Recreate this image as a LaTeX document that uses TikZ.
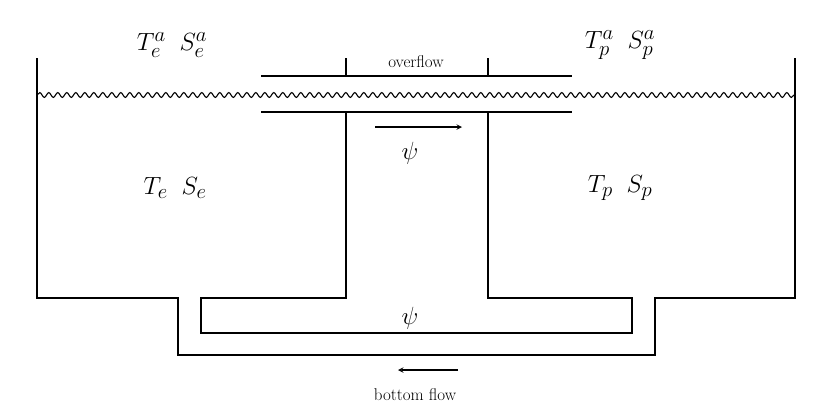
\documentclass[tikz,border=0pt]{standalone}
\usetikzlibrary{decorations.pathmorphing}
\begin{document}
\begin{tikzpicture}[x=1pt,y=-1pt,
  wall/.style={line width=1.4pt},
  lbl/.style={font=\fontsize{30}{35}\selectfont},
  sm/.style={font=\fontsize{17}{20}\selectfont},
  flow/.style={line width=1.4pt,-stealth}]
\useasboundingbox (0,0) rectangle (830,416);
\draw[wall] (37,58) -- (37,298) -- (178,298) -- (178,355) -- (655,355) -- (655,298) -- (795,298) -- (795,58);
\draw[wall] (346,112) -- (346,298) -- (201,298) -- (201,333) -- (632,333) -- (632,298) -- (488,298) -- (488,112);
\draw[wall] (261,76) -- (572,76);
\draw[wall] (261,112) -- (572,112);
\draw[wall] (346,58) -- (346,76);
\draw[wall] (488,58) -- (488,76);
\draw[line width=1.1pt,decorate,decoration={snake,amplitude=2.4pt,segment length=9pt}] (37,95) -- (795,95);
\coordinate (a1) at (375,127); \coordinate (a2) at (462,127);
\draw[flow] (a1) -- (a2);
\coordinate (b1) at (458,370); \coordinate (b2) at (398,370);
\draw[flow] (b1) -- (b2);
\node[lbl] (psi1) at (410,153) {$\psi$};
\node[lbl] (psi2) at (410,318) {$\psi$};
\node[sm] (of) at (416,62) {overflow};
\node[sm] (bf) at (415,395) {bottom flow};
\node[lbl] (ea) at (172,45) {$T_e^a\;\;S_e^a$};
\node[lbl] (pa) at (620,45) {$T_p^a\;\;S_p^a$};
\node[lbl] (e) at (175,188) {$T_e\;\;S_e$};
\node[lbl] (p) at (620,188) {$T_p\;\;S_p$};
\end{tikzpicture}
\end{document}
